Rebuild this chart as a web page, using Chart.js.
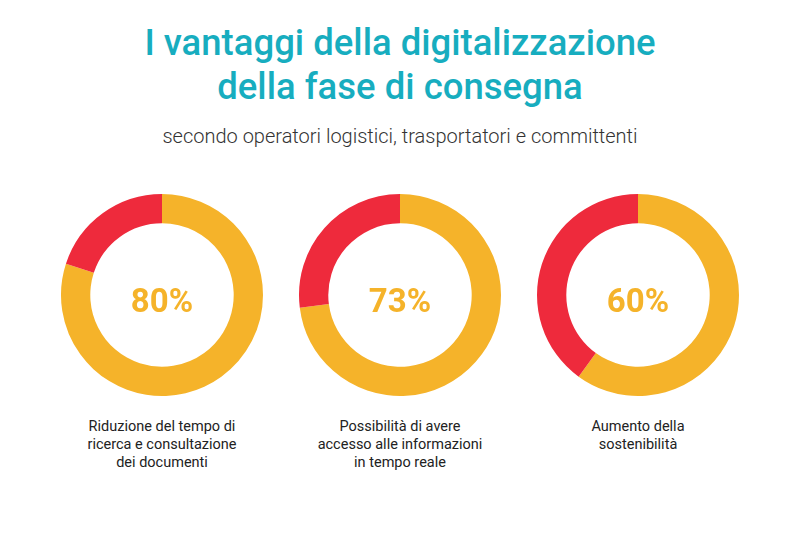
<!DOCTYPE html>
<html>
<head>
<meta charset="utf-8">
<script src="https://cdn.jsdelivr.net/npm/chart.js@4"></script>
<style>
  body { margin: 0; width: 800px; height: 540px; background: #fff; font-family: Roboto, sans-serif; position: relative; overflow: hidden; }
  h1 { position: absolute; top: 21px; left: 0; width: 800px; margin: 0; text-align: center; color: #17adbf; font-size: 36.5px; font-weight: 500; line-height: 44px; }
  .sub { position: absolute; top: 124px; left: 0; width: 800px; text-align: center; color: #333; font-size: 20px; font-weight: 300; }
  .box { position: absolute; top: 190px; width: 210px; height: 210px; }
  .pct { position: absolute; top: 91px; left: 0; width: 210px; text-align: center; color: #f5b32a; font-size: 33px; font-weight: 700; }
  .lbl { position: absolute; top: 418px; width: 220px; text-align: center; color: #222; font-size: 14.5px; line-height: 18px; }
</style>
</head>
<body>
<h1>I vantaggi della digitalizzazione<br>della fase di consegna</h1>
<div class="sub">secondo operatori logistici, trasportatori e committenti</div>
<div id="charts"></div>
<script>
const labels = ['Riduzione del tempo di<br>ricerca e consultazione<br>dei documenti',
                'Possibilità di avere<br>accesso alle informazioni<br>in tempo reale',
                'Aumento della<br>sostenibilità'];
const values = [80, 73, 60];
const centers = [162, 400, 638];

const wrap = document.getElementById('charts');
values.forEach((v, i) => {
    const box = document.createElement('div');
    box.className = 'box';
    box.style.left = (centers[i] - 105) + 'px';
    box.innerHTML = '<canvas width="210" height="210"></canvas><div class="pct">' + v + '%</div>';
    wrap.appendChild(box);
    const lbl = document.createElement('div');
    lbl.className = 'lbl';
    lbl.style.left = (centers[i] - 110) + 'px';
    lbl.innerHTML = labels[i];
    wrap.appendChild(lbl);

    new Chart(box.querySelector('canvas'), {
        type: 'doughnut',
        data: {
            datasets: [{
                data: [v, 100 - v],
                backgroundColor: ['#f5b32a', '#ee2a3c'],
                borderWidth: 0
            }]
        },
        options: {
            responsive: false,
            animation: false,
            cutout: '71%',
            layout: { padding: 4 },
            plugins: { legend: { display: false }, tooltip: { enabled: false } }
        }
    });
});
</script>
</body>
</html>
